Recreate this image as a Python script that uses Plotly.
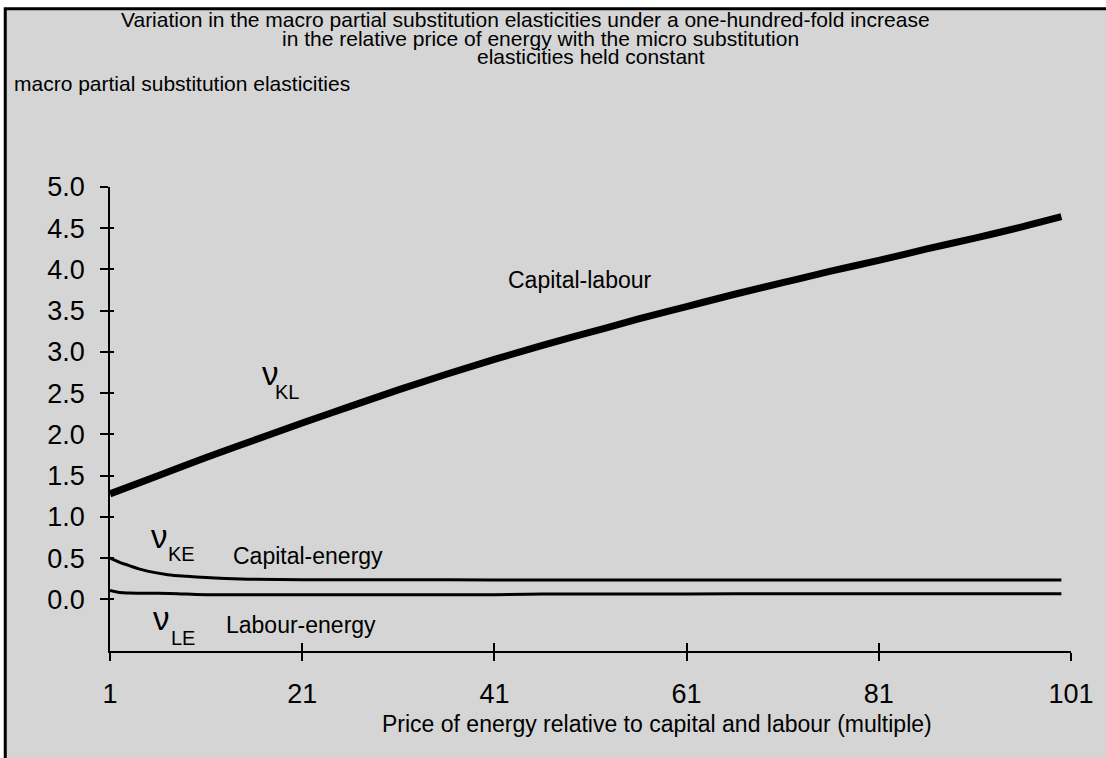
import plotly.graph_objects as go

# ---------------- data ----------------
x_kl = [1, 6, 11, 16, 21, 26, 31, 36, 41, 46, 51, 56, 61, 66, 71, 76, 81, 86, 91, 96, 100]
v_kl = [1.28, 1.50, 1.72, 1.93, 2.14, 2.34, 2.54, 2.73, 2.91, 3.08, 3.24, 3.40,
        3.55, 3.70, 3.84, 3.98, 4.11, 4.25, 4.38, 4.52, 4.64]

x_ke = [1, 2, 3, 4, 5, 7, 9, 11, 13, 16, 21, 31, 41, 51, 61, 71, 81, 91, 100]
v_ke = [0.50, 0.45, 0.41, 0.37, 0.34, 0.30, 0.28, 0.265, 0.255, 0.245, 0.24, 0.24,
        0.235, 0.235, 0.235, 0.235, 0.235, 0.235, 0.235]

x_le = [1, 2, 3, 5, 8, 10, 15, 21, 31, 41, 46, 51, 61, 71, 81, 91, 100]
v_le = [0.11, 0.085, 0.078, 0.075, 0.07, 0.06, 0.058, 0.058, 0.058, 0.058, 0.065,
        0.066, 0.067, 0.068, 0.068, 0.068, 0.068]

x_ticks = [1, 21, 41, 61, 81, 101]
y_ticks = [0.0, 0.5, 1.0, 1.5, 2.0, 2.5, 3.0, 3.5, 4.0, 4.5, 5.0]
y_ticktext = [f"{v:.1f}" for v in y_ticks]

title_lines = [
    "Variation in the macro partial substitution elasticities under a one-hundred-fold increase",
    "in the relative price of energy with the micro substitution",
    "elasticities held constant",
]
y_title = "macro partial substitution elasticities"
x_title = "Price of energy relative to capital and labour (multiple)"

FONT = "Liberation Sans, Arial, Helvetica, sans-serif"
BG = "#d5d5d5"

fig = go.Figure()
fig.add_trace(go.Scatter(x=x_kl, y=v_kl, mode="lines", line=dict(color="black", width=7, shape="spline"),
                         showlegend=False, hoverinfo="skip"))
fig.add_trace(go.Scatter(x=x_ke, y=v_ke, mode="lines", line=dict(color="black", width=3, shape="spline"),
                         showlegend=False, hoverinfo="skip"))
fig.add_trace(go.Scatter(x=x_le, y=v_le, mode="lines", line=dict(color="black", width=3, shape="spline"),
                         showlegend=False, hoverinfo="skip"))
# empty trace to host the overlay axes (inside halves of the crossing ticks)
fig.add_trace(go.Scatter(x=[None], y=[None], xaxis="x2", yaxis="y2", showlegend=False, hoverinfo="skip"))

annotations = []
title_x = [0.4325, 0.4476, 0.5]
title_y = [1.361, 1.321, 1.281]
for t, xx, yy in zip(title_lines, title_x, title_y):
    annotations.append(dict(text=t, xref="paper", yref="paper", x=xx, y=yy, xanchor="center",
                            yanchor="middle", showarrow=False, font=dict(size=21, family=FONT, color="black")))
annotations.append(dict(text=y_title, xref="paper", yref="paper", x=-0.1018, y=1.222, xanchor="left",
                        yanchor="middle", showarrow=False, font=dict(size=21, family=FONT, color="black")))
annotations.append(dict(text=x_title, xref="paper", yref="paper", x=0.569, y=-0.157, xanchor="center",
                        yanchor="middle", showarrow=False, font=dict(size=23, family=FONT, color="black")))

# curve labels (data coordinates)
labels = [
    ("Capital-labour", 49.9, 3.87, 23),
    ("Capital-energy", 21.6, 0.53, 23),
    ("Labour-energy", 20.9, -0.31, 23),
    ("ν", 17.7, 2.74, 33),
    ("KL", 19.4, 2.51, 20),
    ("ν", 6.2, 0.76, 33),
    ("KE", 8.4, 0.55, 20),
    ("ν", 6.4, -0.23, 33),
    ("LE", 8.6, -0.47, 20),
]
for t, xx, yy, s in labels:
    annotations.append(dict(text=t, x=xx, y=yy, xref="x", yref="y", xanchor="center", yanchor="middle",
                            showarrow=False, font=dict(size=s, family=FONT, color="black")))

fig.update_layout(
    width=1106, height=758,
    margin=dict(l=110, r=33, t=187, b=107, pad=0),
    paper_bgcolor="white",
    plot_bgcolor="rgba(0,0,0,0)",
    font=dict(family=FONT, color="black"),
    annotations=annotations,
    xaxis=dict(range=[1, 101], tickvals=x_ticks, ticktext=[str(v) for v in x_ticks],
               ticks="outside", ticklen=8, tickwidth=1.5, tickcolor="black",
               showline=True, linecolor="black", linewidth=1.5, showgrid=False, zeroline=False,
               tickfont=dict(size=27, family=FONT, color="black"), ticklabelstandoff=10),
    yaxis=dict(range=[-0.625, 5.0], tickvals=y_ticks, ticktext=y_ticktext,
               ticks="outside", ticklen=8, tickwidth=1.5, tickcolor="black",
               showline=True, linecolor="black", linewidth=1.5, showgrid=False, zeroline=False,
               tickfont=dict(size=27, family=FONT, color="black"), ticklabelstandoff=10),
    xaxis2=dict(range=[1, 101], tickvals=x_ticks, overlaying="x", anchor="y", side="bottom",
                ticks="inside", ticklen=8, tickwidth=1.5, tickcolor="black",
                showticklabels=False, showline=False, showgrid=False, zeroline=False),
    yaxis2=dict(range=[-0.625, 5.0], tickvals=y_ticks, overlaying="y", anchor="x", side="left",
                ticks="inside", ticklen=4, tickwidth=1.5, tickcolor="black",
                showticklabels=False, showline=False, showgrid=False, zeroline=False),
    shapes=[dict(type="rect", xref="paper", yref="paper", x0=-0.109, x1=1.2, y0=-0.5, y1=1.384,
                 fillcolor=BG, line=dict(color="black", width=3), layer="below")],
)

fig.write_html(
    "out.html",
    config={"displayModeBar": False},
    post_script="document.body.style.margin='0';document.body.style.overflow='hidden';",
)
